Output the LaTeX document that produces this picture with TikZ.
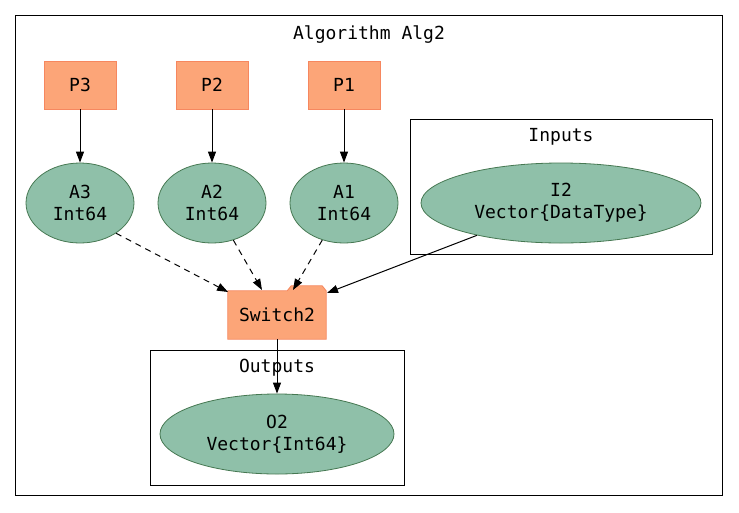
\documentclass[tikz,border=0pt]{standalone}
\usepackage{fontspec}
\setmonofont{DejaVu Sans Mono}
\usetikzlibrary{shapes.geometric,arrows.meta}
\definecolor{salmonfill}{RGB}{252,165,120}
\definecolor{salmonline}{RGB}{246,135,95}
\definecolor{greenfill}{RGB}{143,192,169}
\definecolor{greenline}{RGB}{70,120,82}
\tikzset{
  lbl/.style={font=\fontsize{18}{22}\selectfont\ttfamily},
  pbox/.style={lbl, rectangle, fill=salmonfill, draw=salmonline, line width=0.8pt, minimum width=72pt, minimum height=48pt, inner sep=0pt},
  ell/.style={lbl, ellipse, fill=greenfill, draw=greenline, line width=0.8pt, inner sep=0pt, align=center},
  cluster/.style={draw=black, line width=0.9pt},
  edge/.style={draw=black, line width=1pt, -{Triangle[length=11pt,width=8pt]}},
  dedge/.style={edge, dash pattern=on 6pt off 5pt},
}
\begin{document}
\begin{tikzpicture}[x=1pt,y=-1pt]
\useasboundingbox (0,0) rectangle (739,512);
\fill[white] (0,0) rectangle (739,512);
% clusters
\draw[cluster] (15,15) rectangle (722,495);
\node[lbl] (talg) at (369,35) {Algorithm Alg2};
\draw[cluster] (410,119) rectangle (712,254);
\node[lbl] (tin) at (561,137) {Inputs};
\draw[cluster] (150,350) rectangle (404,485);
% nodes
\node[pbox] (p3) at (80,85) {P3};
\node[pbox] (p2) at (212,85) {P2};
\node[pbox] (p1) at (344,85) {P1};
\node[ell, minimum width=108pt, minimum height=80pt] (a3) at (80,203) {A3\\Int64};
\node[ell, minimum width=108pt, minimum height=80pt] (a2) at (212,203) {A2\\Int64};
\node[ell, minimum width=108pt, minimum height=80pt] (a1) at (344,203) {A1\\Int64};
\node[ell, minimum width=280pt, minimum height=80pt] (i2) at (561,203) {I2\\Vector\{DataType\}};
\node[ell, minimum width=234pt, minimum height=80pt] (o2) at (277,434) {O2\\Vector\{Int64\}};
% Switch2 folder
\node[lbl, minimum width=98pt, minimum height=48pt, inner sep=0pt] (sw) at (277,315) {};
\filldraw[fill=salmonfill, draw=salmonline, line width=0.8pt]
  (sw.south west) -- (sw.north west) -- ([xshift=-39pt]sw.north east)
  -- ([xshift=-35pt,yshift=5pt]sw.north east) -- ([xshift=-4pt,yshift=5pt]sw.north east)
  -- (sw.north east) -- (sw.south east) -- cycle;
\node[lbl] (swt) at (sw.center) {Switch2};
\node[lbl] (tout) at (277,368) {Outputs};
% edges
\draw[edge] (p3) -- (a3);
\draw[edge] (p2) -- (a2);
\draw[edge] (p1) -- (a1);
\coordinate (e3) at (228,292);
\coordinate (e2) at (262,290);
\coordinate (e1) at (293,290);
\coordinate (ei) at (327,293);
\draw[dedge] (a3.-40) -- (e3);
\draw[dedge] (a2) -- (e2);
\draw[dedge] (a1) -- (e1);
\draw[edge] (i2) -- (ei);
\draw[edge] (sw) -- (o2);
\end{tikzpicture}
\end{document}
